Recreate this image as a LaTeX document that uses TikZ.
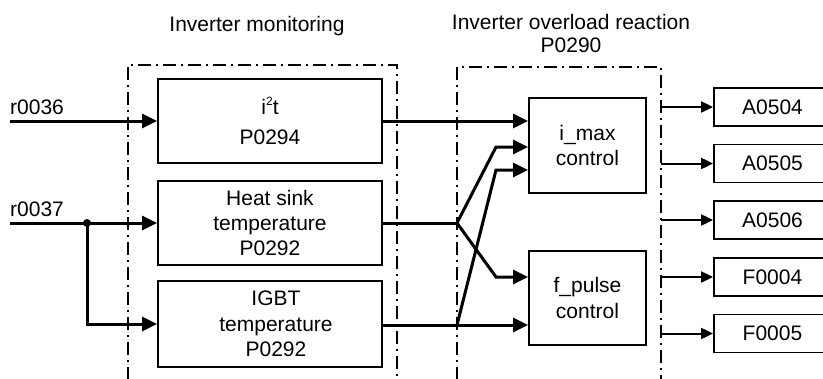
\documentclass[tikz,border=0pt]{standalone}
\usepackage{fontspec}
\setmainfont{Liberation Sans}
\usetikzlibrary{arrows.meta}
\begin{document}
\begin{tikzpicture}[x=1pt,y=-1pt,
  txt/.style={font=\fontsize{21}{25.3}\selectfont,inner sep=0pt,align=center},
  blk/.style={txt,draw,line width=1.8pt,minimum width=224pt,minimum height=84pt},
  ctl/.style={txt,draw,line width=1.8pt,minimum width=117pt,minimum height=95pt},
  outbox/.style={txt,draw,line width=1.8pt,minimum width=117pt,minimum height=38pt},
  conn/.style={line width=3pt,-{Triangle[length=15pt,width=14pt]}},
  wire/.style={line width=3pt},
  outarr/.style={line width=2pt,-{Triangle[length=12pt,width=11pt]}},
  frame/.style={line width=1.2pt,dash pattern=on 13pt off 5pt on 2pt off 5pt}
]
\useasboundingbox (0,0) rectangle (823,378);
\clip (0,0) rectangle (823,378);

% titles
\node[txt,anchor=base] (t1) at (257,31) {Inverter monitoring};
\node[txt,anchor=base] (t2) at (571,29) {Inverter overload reaction};
\node[txt,anchor=base] (t3) at (571,52) {P0290};

% dashed frames
\draw[frame] (128,380) -- (128,65) -- (397,65) -- (397,380);
\draw[frame] (457,380) -- (457,67) -- (661,67) -- (661,380);

% monitoring blocks
\node[blk] (i2t) at (270,121) {i\raisebox{9.5pt}{\fontsize{12}{12}\selectfont 2}t\\[4.5pt]P0294};
\node[blk] (heat) at (270,223) {Heat sink\\temperature\\P0292};
\node[blk,minimum height=86pt] (igbt) at (270,324) {\hspace*{12pt}IGBT\\\hspace*{12pt}temperature\\\hspace*{12pt}P0292};

% control blocks
\node[ctl] (imax) at (587.5,145.5) {i\_max\\control};
\node[ctl,minimum height=94pt] (fpulse) at (587.5,298) {f\_pulse\\control};

% output blocks
\node[outbox] (a504) at (772.5,107) {A0504};
\node[outbox] (a505) at (772.5,163.5) {A0505};
\node[outbox] (a506) at (772.5,220) {A0506};
\node[outbox] (f004) at (772.5,277) {F0004};
\node[outbox] (f005) at (772.5,333.5) {F0005};

% input labels
\node[txt,anchor=base west] (l36) at (10,114) {r0036};
\node[txt,anchor=base west] (l37) at (10,216) {r0037};

% input connectors
\coordinate (s36) at (10,121);
\coordinate (s37) at (10,223);
\coordinate (jd) at (87,223);
\draw[conn] (s36) -- (i2t.west);
\draw[conn] (s37) -- (heat.west);
\draw[conn] (jd) |- (igbt.west);
\fill (jd) circle (4pt);

% internal crossings
\coordinate (jh) at (457,223);
\coordinate (ji) at (457,325);
\coordinate (b1) at (496,147);
\coordinate (b2) at (496,277);
\coordinate (b3) at (496,170);
\draw[conn] (i2t.east) -- (imax.west |- i2t.east);
\draw[wire] (heat.east) -- (jh);
\draw[conn] (jh) -- (b1) -- (imax.west |- b1);
\draw[conn] (jh) -- (b2) -- (fpulse.west |- b2);
\draw[wire] (igbt.east |- ji) -- (ji);
\draw[conn] (ji) -- (fpulse.west |- ji);
\draw[conn] (ji) -- (b3) -- (imax.west |- b3);

% outputs
\coordinate (oe) at (661,0);
\draw[outarr] (oe |- a504.west) -- (a504.west);
\draw[outarr] (oe |- a505.west) -- (a505.west);
\draw[outarr] (oe |- a506.west) -- (a506.west);
\draw[outarr] (oe |- f004.west) -- (f004.west);
\draw[outarr] (oe |- f005.west) -- (f005.west);
\end{tikzpicture}
\end{document}
